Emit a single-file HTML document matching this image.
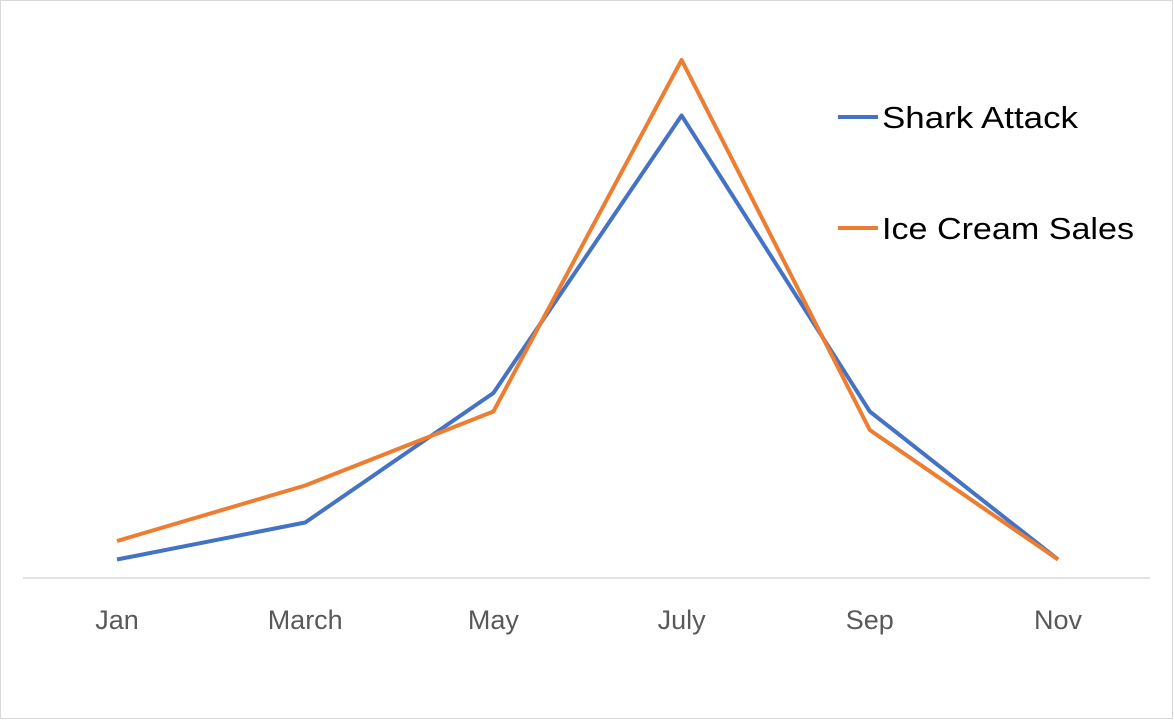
<!DOCTYPE html>
<html><head><meta charset="utf-8"><style>
html,body{margin:0;padding:0;background:#fff;}
svg{display:block;font-family:"Liberation Sans",sans-serif;}
</style></head><body>
<svg id="chart" width="1174" height="720" viewBox="0 0 1174 720">
<rect x="0.5" y="0.5" width="1172" height="718" fill="#fff" stroke="#d9d9d9"/>
<line x1="23" y1="578" x2="1150" y2="578" stroke="#d9d9d9" stroke-width="1.5"/>
<g id="ticks"></g>
<g id="series"></g>
<g>
<g>
<line x1="838" y1="117" x2="878" y2="117" stroke="#4472C4" stroke-width="4"/>
<text x="882" y="128" font-size="31" fill="#000" textLength="196" lengthAdjust="spacingAndGlyphs">Shark Attack</text></g>
<g>
<line x1="838" y1="228" x2="878" y2="228" stroke="#ED7D31" stroke-width="4"/>
<text x="882" y="239" font-size="31" fill="#000" textLength="252" lengthAdjust="spacingAndGlyphs">Ice Cream Sales</text></g>
</g>
</svg>
<script>
const categories = ["Jan","March","May","July","Sep","Nov"];
const sharkAttack = [1,3,10,25,9,1];
const iceCreamSales = [2,5,9,28,8,1];
const NS="http://www.w3.org/2000/svg";
function xPos(i){return 117 + i*188.2;}
function yPos(v){return 578 - v*18.5;}
const tg=document.getElementById('ticks');
categories.forEach((c,i)=>{
  const t=document.createElementNS(NS,'text');
  
  
  t.setAttribute('x',xPos(i));t.setAttribute('y',629);
  t.setAttribute('text-anchor','middle');t.setAttribute('font-size','27');t.setAttribute('fill','#595959');
  t.textContent=c;tg.appendChild(t);
});
const sg=document.getElementById('series');
function line(vals,color,name){
  const p=document.createElementNS(NS,'polyline');
  
  
  p.setAttribute('points',vals.map((v,i)=>xPos(i)+','+yPos(v)).join(' '));
  p.setAttribute('fill','none');p.setAttribute('stroke',color);p.setAttribute('stroke-width','4');
  p.setAttribute('stroke-linejoin','round');
  sg.appendChild(p);
}
line(sharkAttack,'#4472C4','shark-attack-line');
line(iceCreamSales,'#ED7D31','ice-cream-sales-line');
</script>
</body></html>
